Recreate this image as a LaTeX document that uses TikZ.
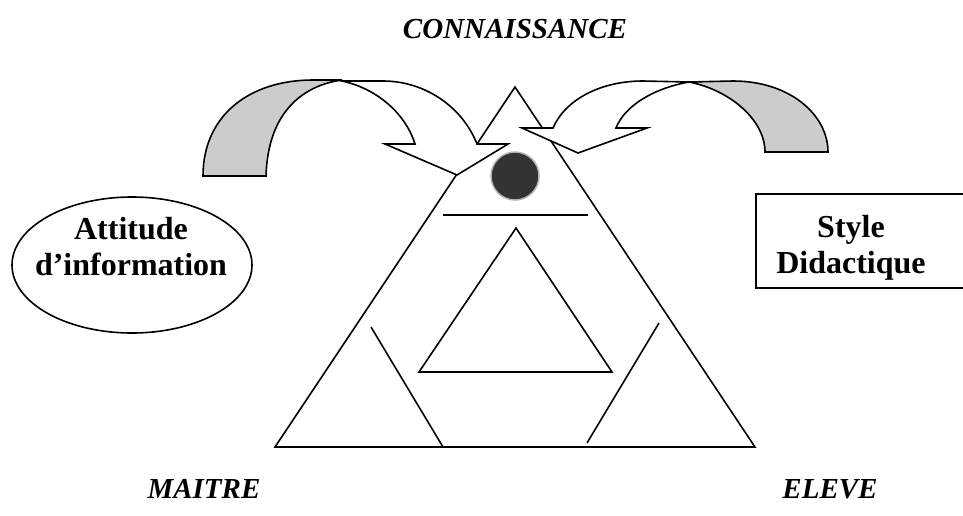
\documentclass[tikz,border=0pt]{standalone}
\usepackage{fontspec}
\setmainfont{Liberation Serif}
\usetikzlibrary{shapes.geometric}

\begin{document}
\begin{tikzpicture}[x=1pt, y=-1pt, line join=miter,
    trait/.style={line width=1.6pt},
    pole/.style={font=\fontsize{29}{32}\selectfont\bfseries\itshape, anchor=base, inner sep=0pt},
    bloc/.style={font=\fontsize{32}{36}\selectfont\bfseries, align=center, inner sep=0pt}]
  \definecolor{cDos}{RGB}{204, 204, 204}
  \definecolor{cPoint}{RGB}{51, 51, 51}
  \clip (0,0) rectangle (963,515);

  % grand triangle
  \coordinate (S) at (515,87);
  \coordinate (M) at (275,447);
  \coordinate (E) at (755,447);
  \draw[trait] (S) -- (M) -- (E) -- cycle;

  % triangle interieur et traits
  \coordinate (iS) at (516,228);
  \coordinate (iM) at (419,372);
  \coordinate (iE) at (612,372);
  \draw[trait] (iS) -- (iM) -- (iE) -- cycle;
  \draw[trait] (443,215) -- (588,215);
  \draw[trait] (371,327) -- (443,447);
  \draw[trait] (659,323) -- (587,443);

  \node[circle, fill=cPoint, draw=gray!60, line width=1.5pt, minimum size=48pt] (point) at (515,176) {};

  % fleche gauche
  \filldraw[trait, fill=cDos] (203,176) .. controls (203,115) and (250,80) .. (313,80) -- (342,80)
      .. controls (305,85) and (268,110) .. (266,176) -- cycle;
  \filldraw[trait, fill=white] (342,81) -- (383,81) .. controls (424,81) and (462,106) .. (477,144)
      -- (508,144) -- (457,175) -- (385,144) -- (415,144)
      .. controls (405,112) and (375,88) .. (342,81) -- cycle;

  % fleche droite
  \filldraw[trait, fill=cDos] (689,82) -- (733,81) .. controls (790,81) and (828,115) .. (828,152)
      -- (765,152) .. controls (765,120) and (730,90) .. (689,82) -- cycle;
  \filldraw[trait, fill=white] (689,82) -- (643,81) .. controls (600,81) and (565,100) .. (553,128)
      -- (522,128) -- (578,153) -- (647,128) -- (616,128)
      .. controls (625,105) and (655,88) .. (689,82) -- cycle;

  % cadres
  \node[draw, ellipse, trait, minimum width=240pt, minimum height=136pt] (bulle) at (132,265) {};
  \node[bloc] (attitude) at (131,247) {Attitude\\d’information};
  \node[draw, trait, anchor=west, minimum width=240pt, minimum height=94pt] (cadre) at (755,241) {};
  \node[bloc] (style) at (851,248) {Style\\Didactique};

  % poles
  \node[pole] (savoir) at (515,38) {CONNAISSANCE};
  \node[pole] (maitre) at (204,498) {MAITRE};
  \node[pole] (eleve) at (830,498) {ELEVE};
\end{tikzpicture}
\end{document}
